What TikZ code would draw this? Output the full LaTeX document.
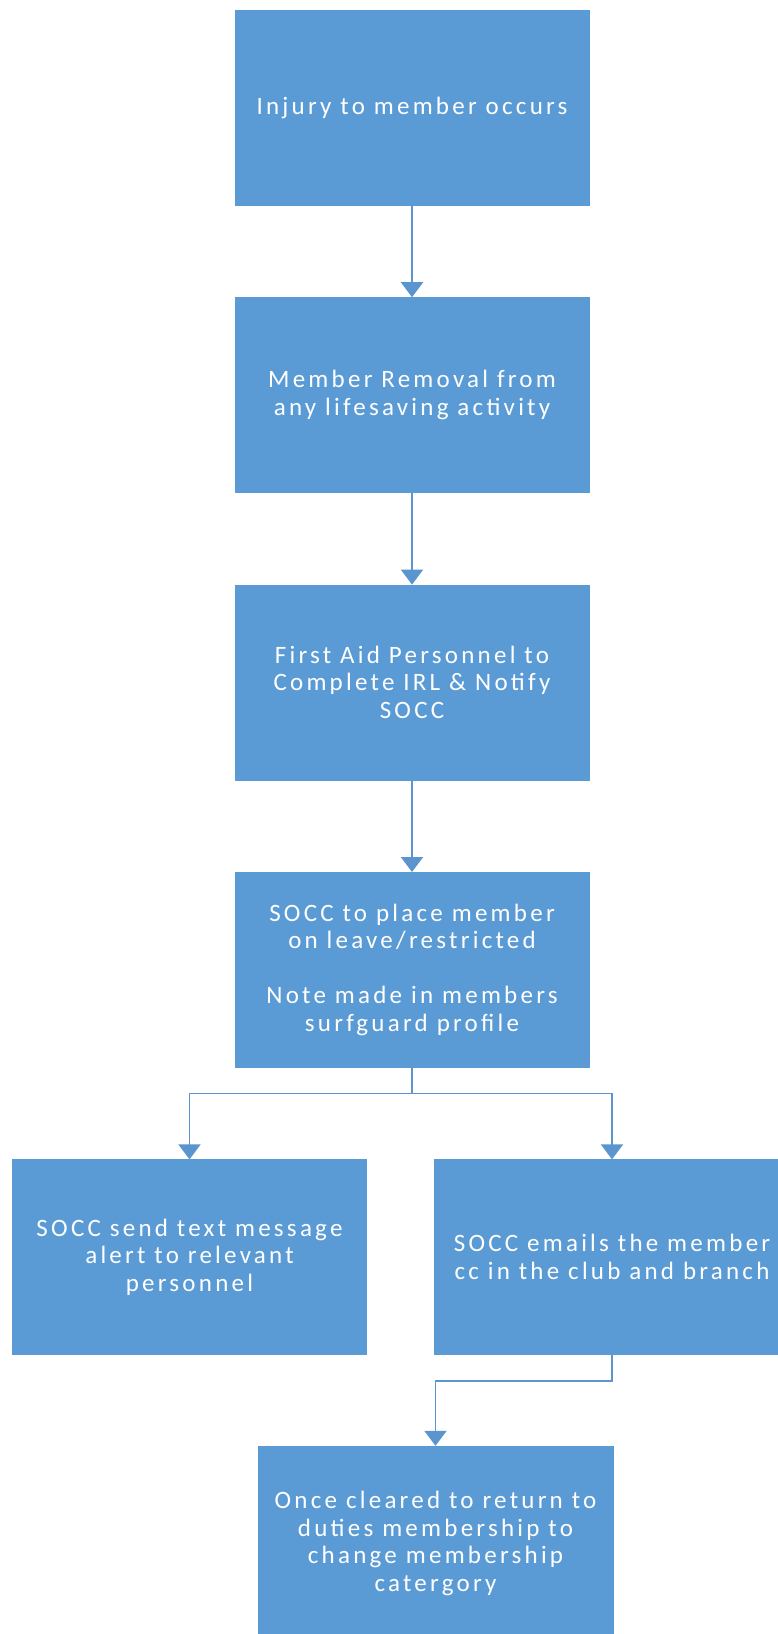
\documentclass[tikz,border=0pt]{standalone}
\usepackage{fontspec}
\usetikzlibrary{positioning,arrows.meta}
\newfontfamily\boxfont{Carlito}[LetterSpace=13]
\definecolor{officeblue}{HTML}{5B9BD5}
\definecolor{linkblue}{HTML}{5B95CF}

\begin{document}
\begin{tikzpicture}[node distance={92pt}, x=1pt, y=1pt,
	stepbox/.style={draw=officeblue, fill=officeblue, minimum width=354pt, minimum height=195pt,
		inner sep=0pt, align=center, text=white, font=\boxfont\fontsize{25}{27.5}\selectfont},
	link/.style={draw=linkblue, line width=1.8pt, -{Triangle[width=22pt,length=15pt]}}]
		\useasboundingbox (0,0) rectangle (778,-1634);
		\fill[white] (0,0) rectangle (778,-1634);
		\clip (0,0) rectangle (778,-1634);

		\node[stepbox] (injury) at (412,-107.5) {Injury to member occurs};
		\node[stepbox] (removal) [below=of injury] {Member Removal from\\any lifesaving activity};
		\node[stepbox] (firstaid) [below=of removal] {First Aid Personnel to\\Complete IRL \& Notify\\SOCC};
		\node[stepbox] (leave) [below=of firstaid] {SOCC to place member\\on leave/restricted\\[27.5pt]Note made in members\\surfguard profile};
		\node[stepbox] (alert) [below=of leave, xshift=-222.5pt] {SOCC send text message\\alert to relevant\\personnel};
		\node[stepbox, minimum width=355pt] (email) [below=of leave, xshift=200pt] {SOCC emails the member\\cc in the club and branch};
		\node[stepbox, minimum width=355pt] (cleared) [below=91pt of email, xshift=-176.5pt] {Once cleared to return to\\duties membership to\\change membership\\catergory};

		\coordinate (split) at ([yshift=-26pt]leave.south);

		\draw[link] (injury) -- (removal);
		\draw[link] (removal) -- (firstaid);
		\draw[link] (firstaid) -- (leave);
		\draw[link, -] (leave) -- (split);
		\draw[link] (split) -| (alert);
		\draw[link] (split) -| (email);
		\draw[link] (email.south) -- ++(0,-26) -| (cleared.north);
	\end{tikzpicture}
\end{document}
